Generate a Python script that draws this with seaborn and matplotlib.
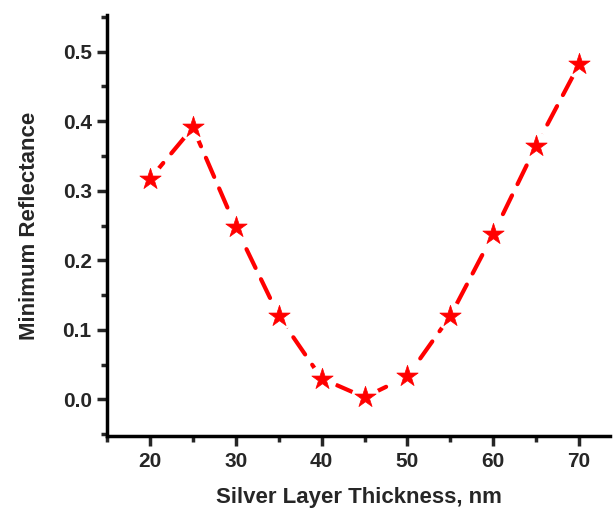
import matplotlib
matplotlib.use("Agg")
import matplotlib.pyplot as plt
import seaborn as sns
import pandas as pd
from matplotlib.ticker import MultipleLocator

thickness = [20, 25, 30, 35, 40, 45, 50, 55, 60, 65, 70]
min_reflectance = [0.317, 0.391, 0.248, 0.120, 0.030, 0.003, 0.033, 0.120, 0.238, 0.365, 0.482]
x_label = "Silver Layer Thickness, nm"
y_label = "Minimum Reflectance"

sns.set_style("ticks")
plt.rcParams['font.family'] = ['Liberation Sans', 'DejaVu Sans']
plt.rcParams['font.weight'] = 'bold'

df = pd.DataFrame({"t": thickness, "r": min_reflectance})

fig = plt.figure(figsize=(6.15, 5.12), dpi=100)
ax = fig.add_axes([0.174, 0.148, 0.818, 0.823])

sns.lineplot(data=df, x="t", y="r", ax=ax, color="#ff0000", linewidth=3)
ln = ax.lines[0]
ln.set_dashes([5, 3])
ln.set_dash_capstyle('round')

# white halo to break the line around markers (Origin style)
sns.scatterplot(data=df, x="t", y="r", ax=ax, marker="o", s=420,
                color="white", edgecolor="white", linewidth=0, zorder=3)
sns.scatterplot(data=df, x="t", y="r", ax=ax, marker="*", s=260,
                color="#ff0000", edgecolor="#ff0000", linewidth=0.5, zorder=4)

ax.set_xlim(15, 73.6)
ax.set_ylim(-0.053, 0.553)
ax.xaxis.set_major_locator(MultipleLocator(10))
ax.xaxis.set_minor_locator(MultipleLocator(5))
ax.yaxis.set_major_locator(MultipleLocator(0.1))
ax.yaxis.set_minor_locator(MultipleLocator(0.05))
ax.yaxis.set_major_formatter(matplotlib.ticker.FormatStrFormatter('%.1f'))

for s in ['top', 'right']:
    ax.spines[s].set_visible(False)
for s in ['left', 'bottom']:
    ax.spines[s].set_linewidth(2.5)
    ax.spines[s].set_color('black')

ax.tick_params(which='major', direction='out', length=7, width=2.5, labelsize=15, pad=4)
ax.tick_params(which='minor', direction='out', length=4, width=2.5)
for lab in ax.get_xticklabels() + ax.get_yticklabels():
    lab.set_fontweight('bold')

ax.set_xlabel(x_label, fontsize=16, fontweight='bold', labelpad=12)
ax.set_ylabel(y_label, fontsize=16, fontweight='bold', labelpad=16)

fig.savefig("out.png", dpi=100)
